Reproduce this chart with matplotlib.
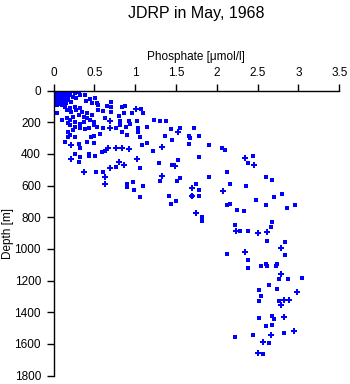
import matplotlib
matplotlib.use("Agg")
import matplotlib.pyplot as plt

plt.rcParams['font.family'] = ['Liberation Sans', 'DejaVu Sans']

title = "JDRP in May, 1968"
xlabel = "Phosphate [\u03bcmol/l]"
ylabel = "Depth [m]"
xticks = [0, 0.5, 1, 1.5, 2, 2.5, 3, 3.5]
xticklabels = ["0", "0.5", "1", "1.5", "2", "2.5", "3", "3.5"]
yticks = [0, 200, 400, 600, 800, 1000, 1200, 1400, 1600, 1800]

# square-marker samples (phosphate, depth)
sq_phos = [
    0.01, 0.03, 0.05, 0.07, 0.09, 0.11, 0.13, 0.15, 0.02, 0.04, 0.06, 0.08, 0.10, 0.12,
    0.14, 0.16, 0.01, 0.03, 0.05, 0.07, 0.09, 0.11, 0.13, 0.02, 0.04, 0.06, 0.08, 0.10,
    0.12, 0.05, 0.17, 0.18, 0.20, 0.02, 0.06, 0.09, 0.12, 0.15, 0.04, 0.08,
    0.01, 0.04, 0.07, 0.10, 0.13, 0.16, 0.19, 0.02, 0.05, 0.08, 0.11, 0.14, 0.17, 0.01,
    0.03, 0.06, 0.09, 0.12, 0.15, 0.18, 0.03, 0.07, 0.11, 0.15, 0.02, 0.06, 0.10, 0.14,
    0.19, 0.24, 0.26, 0.31, 0.20, 0.24, 0.28, 0.33, 0.39, 0.45, 0.51, 0.40, 0.47, 0.53,
    0.55, 0.71, 0.65, 0.71, 0.84, 0.88, 1.07, 1.09, 0.96, 0.86, 0.80, 0.71, 0.61, 0.55,
    0.63, 0.81, 0.92, 1.02, 0.94, 0.82, 0.76, 0.89, 1.03, 1.15, 1.04, 1.06, 0.90, 0.84,
    0.61, 0.53, 0.57, 0.49, 0.46, 0.43, 0.39, 0.33, 0.26, 0.24, 0.20, 0.18, 0.20, 0.26,
    0.18, 0.14, 0.31, 0.33, 0.41, 0.49, 0.59, 0.63, 1.08, 1.15, 0.26, 0.33, 0.43, 0.43,
    0.51, 0.31, 0.76, 1.06, 0.52, 0.61, 0.04, 0.11, 0.16, 0.18, 0.04,
    0.06, 0.10, 0.14, 0.16, 0.20, 0.22, 0.26, 0.28, 0.33, 0.35, 0.31, 0.37, 0.41, 0.45,
    0.49, 0.24, 0.20, 0.26, 0.33, 0.37, 0.49, 0.41, 0.47, 0.12, 0.18, 0.22, 0.14,
    1.23, 1.31, 1.38, 1.44, 1.55, 1.72, 1.37, 1.66, 1.67, 1.78, 1.45, 1.66, 1.90, 2.06,
    2.10, 1.22, 1.78, 1.52, 1.29, 1.45, 2.38, 2.13, 2.44,
    0.90, 0.97, 0.90, 0.99, 1.09, 1.06,
    1.55, 1.30, 1.51, 1.74, 1.90, 1.78, 2.16, 2.36, 1.41, 1.50, 1.44, 1.70, 1.78, 2.16,
    2.13, 2.25, 2.33, 1.82, 1.82, 2.22, 2.28, 2.38, 2.13, 2.38,
    2.60, 2.67, 2.80, 2.70, 2.48, 2.60, 2.86, 2.96, 2.68, 2.66, 2.62, 2.84, 2.84, 2.60,
    2.74,
    2.38, 2.54, 2.61, 2.72, 2.76, 2.87, 3.04, 2.64, 2.52, 2.74, 2.54, 2.52, 2.76, 2.68,
    2.52, 2.70, 2.68, 2.60, 2.82, 2.22, 2.44, 2.64, 2.56,
]
sq_depth = [
    5, 10, 3, 8, 12, 5, 15, 8, 20, 25, 18, 30, 22, 35,
    28, 20, 40, 45, 38, 50, 42, 55, 48, 60, 65, 58, 70, 62,
    75, 80, 45, 12, 30, 32, 48, 68, 20, 55, 90, 85,
    14, 14, 14, 14, 14, 14, 18, 34, 30, 40, 28, 42, 36, 52,
    56, 48, 60, 66, 64, 56, 74, 78, 72, 80, 3, 3, 3, 3,
    7, 3, 18, 12, 28, 39, 49, 28, 28, 54, 50, 66, 81, 81,
    91, 75, 96, 106, 102, 96, 117, 144, 144, 144, 159, 134, 129, 123,
    176, 192, 192, 192, 214, 218, 239, 228, 234, 232, 264, 291, 281, 260,
    239, 232, 277, 287, 291, 239, 245, 239, 228, 249, 218, 260, 281, 291,
    291, 323, 340, 361, 327, 333, 386, 382, 344, 333, 403, 417, 403, 413,
    411, 453, 483, 491, 516, 516, 144, 186, 176, 207, 91,
    81, 91, 102, 123, 112, 134, 102, 123, 112, 134, 155, 165, 176, 186,
    197, 165, 186, 201, 213, 201, 218, 144, 155, 70, 60, 70, 49,
    186, 192, 190, 241, 239, 239, 285, 285, 298, 287, 314, 335, 344, 361,
    378, 384, 420, 441, 460, 470, 455, 516, 413,
    590, 579, 611, 630, 602, 672,
    550, 571, 571, 592, 548, 630, 592, 600, 668, 697, 714, 668, 668, 716,
    724, 756, 758, 796, 823, 848, 886, 888, 1031, 1071,
    548, 565, 655, 674, 689, 724, 743, 722, 832, 865, 949, 956, 1038, 1097,
    1097,
    1122, 1109, 1107, 1109, 1191, 1191, 1181, 1231, 1257, 1255, 1295, 1330, 1328, 1425,
    1435, 1442, 1482, 1490, 1532, 1559, 1545, 1593, 1667,
]

# plus-marker samples (phosphate, depth)
pl_phos = [
    1.01, 0.69, 0.69, 0.67, 0.76, 0.84, 0.92, 1.02, 0.80, 0.86, 0.69, 0.22, 0.22, 0.37,
    1.53, 1.33, 1.49, 2.34, 2.46, 0.63, 0.63,
    1.33, 1.70, 1.70, 2.08, 1.75, 2.24, 2.34,
    2.50, 2.62, 2.78,
    2.78, 2.98, 2.82, 2.88, 2.78, 2.82, 2.94, 2.66, 2.56, 2.50,
]
pl_depth = [
    117, 192, 239, 365, 365, 365, 369, 432, 453, 470, 491, 344, 432, 516,
    260, 359, 478, 428, 472, 544, 592,
    541, 617, 668, 634, 775, 888, 1021,
    903, 895, 996,
    1160, 1273, 1324, 1324, 1355, 1431, 1520, 1545, 1589, 1658,
]

fig = plt.figure(figsize=(3.5, 3.84), dpi=100)
ax = fig.add_axes([0.1529, 0.0221, 0.8166, 0.7422])

ax.plot(sq_phos, sq_depth, linestyle='none', marker='s', markersize=2.4,
        color='#0000ff', markeredgewidth=0)
ax.plot(pl_phos, pl_depth, linestyle='none', marker='P', markersize=3.8,
        color='#0000ff', markeredgewidth=0)

ax.set_xlim(0, 3.5)
ax.set_ylim(1800, 0)
ax.xaxis.set_label_position('top')
ax.xaxis.tick_top()
ax.set_xticks(xticks)
ax.set_xticklabels(xticklabels)
ax.set_yticks(yticks)
ax.tick_params(axis='both', direction='out', length=5, width=1, labelsize=8.5,
               colors='black', pad=3)
ax.tick_params(axis='y', pad=4)
for side in ['right', 'bottom']:
    ax.spines[side].set_visible(False)
for side in ['top', 'left']:
    ax.spines[side].set_linewidth(1)
ax.set_xlabel(xlabel, fontsize=8.5, labelpad=5)
ax.set_ylabel(ylabel, fontsize=8.5)
ax.yaxis.set_label_coords(-0.138, 0.5)
fig.text(0.56, 0.985, title, ha='center', va='top', fontsize=11.5)

fig.savefig('out.png', dpi=100)
